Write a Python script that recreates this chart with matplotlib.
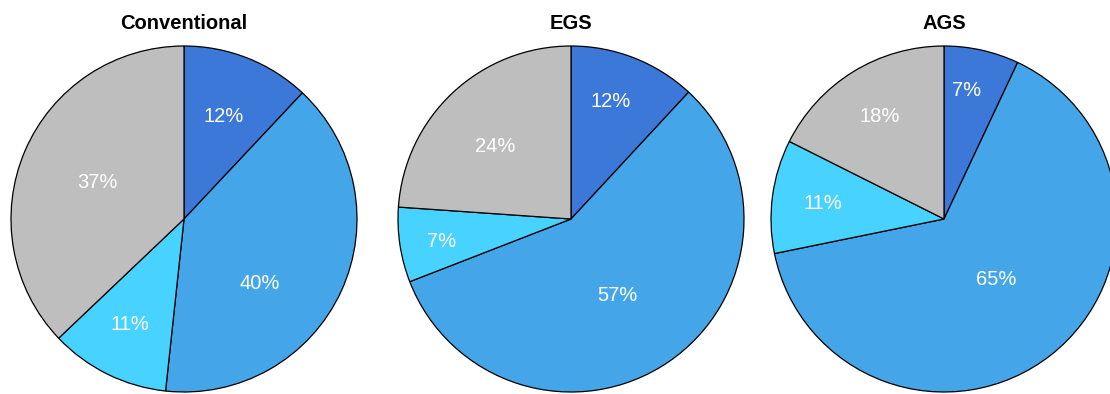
import matplotlib.pyplot as plt

plt.rcParams["font.family"] = ["Liberation Sans", "DejaVu Sans"]

titles = ["Conventional", "EGS", "AGS"]
conventional = [12.0, 39.7, 11.2, 37.1]
egs = [11.9, 57.2, 7.0, 23.9]
ags = [7.0, 64.8, 10.6, 17.6]
colors = ["#3c78d8", "#44a6e8", "#48d2ff", "#bebebe"]

# where the reference puts each percentage label (unit-radius coords)
label_pos = [
    [(0.23, 0.59), (0.44, -0.37), (-0.31, -0.61), (-0.50, 0.21)],
    [(0.23, 0.68), (0.27, -0.44), (-0.75, -0.13), (-0.44, 0.42)],
    [(0.13, 0.74), (0.30, -0.35), (-0.70, 0.09), (-0.37, 0.59)],
]

fig = plt.figure(figsize=(11.1, 3.94), dpi=100)

# pie centres in pixels (x), radius 173px
centers = [184, 571, 944]
W, H = 1110, 394
r = 173
cy = 394 - 219

for title, vals, cx, lp in zip(titles, [conventional, egs, ags], centers, label_pos):
    ax = fig.add_axes([(cx - r) / W, (cy - r) / H, 2 * r / W, 2 * r / H])
    wedges, texts, autotexts = ax.pie(vals, colors=colors, startangle=90, counterclock=False,
                                      radius=1, autopct="%.0f%%", pctdistance=0.62,
                                      wedgeprops=dict(edgecolor="black", linewidth=0.9))
    for t, p in zip(autotexts, lp):
        t.set_color("white")
        t.set_fontsize(14.5)
        t.set_position(p)
    ax.set_xlim(-1, 1)
    ax.set_ylim(-1, 1)
    ax.set_aspect("equal")
    ax.set_title(title, fontsize=14.5, fontweight="bold", pad=12)
    ax.axis("off")

plt.savefig("out.png", dpi=100)
